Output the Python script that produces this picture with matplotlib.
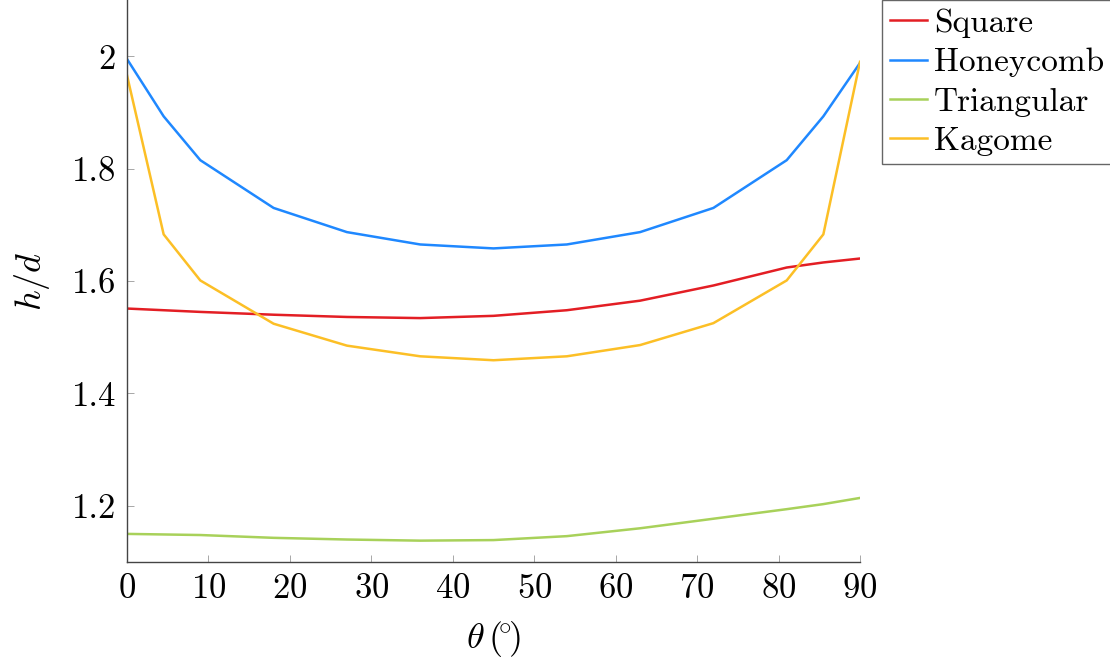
import matplotlib
matplotlib.use("Agg")
import matplotlib.pyplot as plt
from matplotlib.ticker import FuncFormatter, MultipleLocator

plt.rcParams["font.family"] = "cmr10"
plt.rcParams["mathtext.fontset"] = "cm"
plt.rcParams["axes.formatter.use_mathtext"] = True

theta = [0, 4.5, 9, 18, 27, 36, 45, 54, 63, 72, 81, 85.5, 90]
square = [1.551, 1.548, 1.545, 1.540, 1.536, 1.534, 1.538, 1.548, 1.565, 1.592, 1.624, 1.633, 1.640]
honeycomb = [1.995, 1.893, 1.815, 1.730, 1.687, 1.665, 1.658, 1.665, 1.687, 1.730, 1.815, 1.893, 1.988]
triangular = [1.150, 1.149, 1.148, 1.143, 1.140, 1.138, 1.139, 1.146, 1.160, 1.177, 1.194, 1.203, 1.214]
kagome = [1.966, 1.683, 1.601, 1.524, 1.485, 1.466, 1.459, 1.466, 1.486, 1.525, 1.601, 1.683, 1.990]

series = [
    ("Square", square, "#e31e24"),
    ("Honeycomb", honeycomb, "#1f88ff"),
    ("Triangular", triangular, "#a8d15a"),
    ("Kagome", kagome, "#fcbf26"),
]

fig = plt.figure(figsize=(11.1, 6.72), dpi=100)
ax = fig.add_axes([127 / 1110, 110 / 672, 733 / 1110, 562 / 672])

for name, values, color in series:
    ax.plot(theta, values, color=color, linewidth=1.8, label=name)

ax.set_xlim(0, 90)
ax.set_ylim(1.1, 2.1)
ax.xaxis.set_major_locator(MultipleLocator(10))
ax.set_yticks([1.2, 1.4, 1.6, 1.8, 2.0])
ax.yaxis.set_major_formatter(FuncFormatter(lambda v, _: f"{v:g}"))

for side in ("top", "right"):
    ax.spines[side].set_visible(False)
for side in ("left", "bottom"):
    ax.spines[side].set_color("#444444")
    ax.spines[side].set_linewidth(1.0)

ax.tick_params(direction="in", length=5, width=0.6, color="#999999",
               labelsize=25, pad=8, labelcolor="black")

ax.set_xlabel(r"$\theta\,(\!{}^{\circ}\!)$", fontsize=26, labelpad=10)
ax.set_ylabel(r"$h/d$", fontsize=26, labelpad=14)

leg = ax.legend(loc="upper left", bbox_to_anchor=(882 / 1110, 1.0),
                bbox_transform=fig.transFigure, fontsize=24, frameon=True,
                fancybox=False, edgecolor="#666666", framealpha=1,
                handlelength=1.1, handletextpad=0.2, labelspacing=0.3,
                borderpad=0.25, borderaxespad=0)
leg.get_frame().set_linewidth(1.0)

fig.savefig("out.png", dpi=100)
